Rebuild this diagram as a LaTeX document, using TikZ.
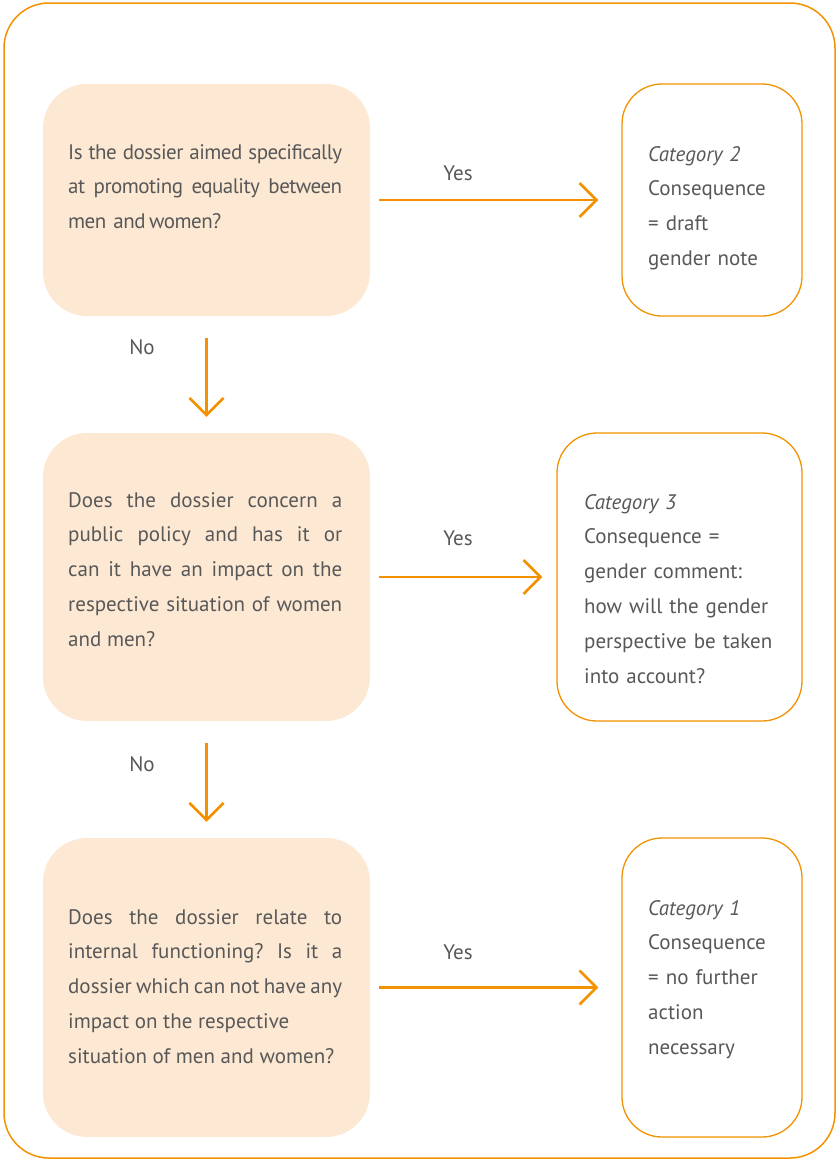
\documentclass[tikz,border=0pt]{standalone}
\usepackage{fontspec}
\setmainfont{PT Sans}
\newfontfamily\condfont{PT Sans}[LetterSpace=-2.5,WordSpace=0.7]
\usetikzlibrary{arrows.meta}
\definecolor{orangeline}{RGB}{243,146,0}
\definecolor{peach}{RGB}{253,233,211}
\definecolor{txtgray}{RGB}{88,88,88}
\newcommand{\diagfont}{\fontsize{21}{34.8}\selectfont\frenchspacing\lefthyphenmin=64\relax}
\tikzset{
  qbox/.style={fill=peach, draw=none, rounded corners=44pt, minimum width=327pt, inner sep=0pt},
  cbox/.style={draw=orangeline, line width=1.3pt, fill=white, rounded corners=40pt, inner sep=0pt},
  flowarrow/.style={draw=orangeline, line width=2.6pt, -{Straight Barb[length=17pt,width=34pt,line width=2.6pt]}},
  qtext/.style={anchor=base west, inner sep=0pt, text width=274pt, align=justify, text=txtgray, font=\diagfont},
  ctext/.style={anchor=base west, inner sep=0pt, text width=210pt, align=left, text=txtgray, font=\diagfont},
  lbl/.style={inner sep=0pt, text=txtgray, font=\fontsize{21}{25}\selectfont}
}
\begin{document}
\begin{tikzpicture}[x=1pt,y=-1pt]
\useasboundingbox (0,0) rectangle (837,1159);
\node[draw=orangeline, line width=1.5pt, rounded corners=45pt, minimum width=831pt, minimum height=1155pt, inner sep=0pt] (frame) at (419.5,580.5) {};
% question boxes
\node[qbox, minimum height=232pt] (q1) at (206.5,200) {};
\node[qbox, minimum height=288pt] (q2) at (206.5,577) {};
\node[qbox, minimum height=299pt] (q3) at (206.5,987.5) {};
% consequence boxes
\node[cbox, minimum width=180pt, minimum height=232pt] (c2) at (712,200) {};
\node[cbox, minimum width=245pt, minimum height=288pt] (c3) at (679.5,577) {};
\node[cbox, minimum width=180pt, minimum height=299pt] (c1) at (712,987.5) {};
% texts
\node[qtext] (t1) at (68,159) {\condfont Is the dossier aimed specifically\break at promoting equality between\break men\ \ and women?};
\node[qtext] (t2) at (68,507) {Does the dossier concern a\break public policy and has it or\break can it have an impact on the\break respective situation of women\break and men?};
\node[qtext] (t3) at (68,924) {Does the dossier relate to\break internal functioning? Is it a\break dossier which can not have any\break impact on the respective\hfil\break situation of men and women?};
\node[ctext] (k2) at (648,161) {\textit{Category 2}\\Consequence\\= draft\\gender note};
\node[ctext] (k3) at (584,509) {\textit{Category 3}\\Consequence =\\gender comment:\\how will the gender\\perspective be taken\\into account?};
\node[ctext] (k1) at (648,915) {\textit{Category 1}\\Consequence\\= no further\\action\\necessary};
% arrows
\draw[flowarrow, shorten <=9pt, shorten >=23pt] (q1.east) -- (c2.west);
\draw[flowarrow, shorten <=9pt, shorten >=14pt] (q2.east) -- (c3.west);
\draw[flowarrow, shorten <=9pt, shorten >=23pt] (q3.east) -- (c1.west);
\draw[flowarrow, shorten <=22pt, shorten >=16pt] (q1.south) -- (q2.north);
\draw[flowarrow, shorten <=22pt, shorten >=16pt] (q2.south) -- (q3.north);
% labels
\node[lbl] (y1) at (458,173) {Yes};
\node[lbl] (y2) at (458,538) {Yes};
\node[lbl] (y3) at (458,952) {Yes};
\node[lbl] (n1) at (142,347) {No};
\node[lbl] (n2) at (142,764) {No};
\end{tikzpicture}
\end{document}
